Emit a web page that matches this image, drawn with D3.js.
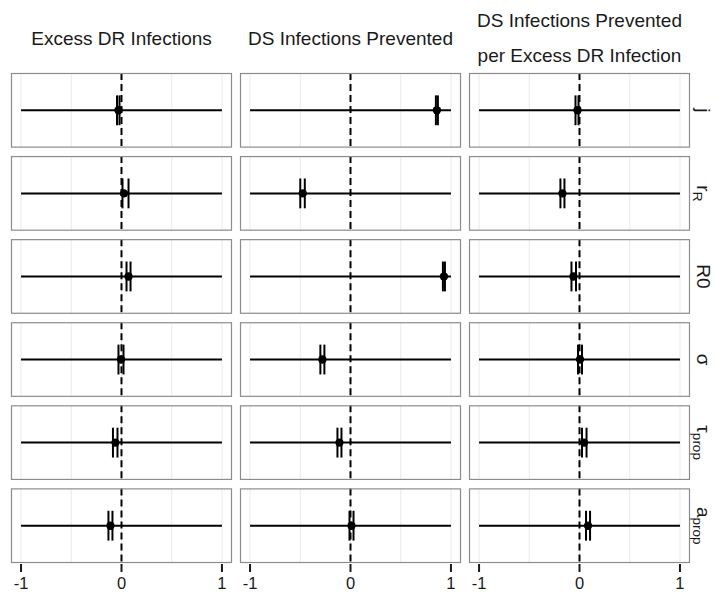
<!DOCTYPE html>
<html>
<head>
<meta charset="utf-8">
<script src="https://cdn.jsdelivr.net/npm/d3@7"></script>
<style>
  body { margin: 0; background: #fff; }
  svg { display: block; font-family: "Liberation Sans", Arial, Helvetica, sans-serif; }
</style>
</head>
<body>
<svg id="chart" width="715" height="593"></svg>
<script>
// Outcome columns (facet titles, one entry per line)
const outcomeTitles = [
  ["Excess DR Infections"],
  ["DS Infections Prevented"],
  ["DS Infections Prevented", "per Excess DR Infection"]
];

// Parameter rows: [main text, subscript]
const parameterLabels = [["j", ""], ["r", "R"], ["R0", ""], ["σ", ""], ["τ", "prop"], ["a", "prop"]];

// Sensitivity sweep of each parameter (horizontal span)
const sweepMin = [-1, -1, -1, -1, -1, -1];
const sweepMax = [1, 1, 1, 1, 1, 1];

// Excess DR infections: estimate and interval per parameter
const excessEst = [-0.03, 0.025, 0.07, -0.005, -0.06, -0.11];
const excessLo  = [-0.045, 0.01, 0.05, -0.03, -0.085, -0.13];
const excessHi  = [-0.02, 0.07, 0.09, 0.02, -0.04, -0.09];

// DS infections prevented
const preventedEst = [0.86, -0.475, 0.93, -0.28, -0.11, 0.01];
const preventedLo  = [0.85, -0.50, 0.92, -0.30, -0.13, -0.01];
const preventedHi  = [0.87, -0.455, 0.94, -0.26, -0.09, 0.03];

// DS infections prevented per excess DR infection
const ratioEst = [-0.02, -0.17, -0.06, 0.005, 0.045, 0.085];
const ratioLo  = [-0.04, -0.19, -0.08, -0.015, 0.025, 0.065];
const ratioHi  = [-0.01, -0.15, -0.035, 0.025, 0.07, 0.105];

const xTicks = [-1, 0, 1];
const gridTicks = [-1, -0.5, 0, 0.5, 1];

const columns = [
  { est: excessEst, lo: excessLo, hi: excessHi },
  { est: preventedEst, lo: preventedLo, hi: preventedHi },
  { est: ratioEst, lo: ratioLo, hi: ratioHi }
];

const svg = d3.select("#chart");

const colBand = d3.scaleBand().domain(d3.range(3)).range([11, 690]).paddingInner(0.035).paddingOuter(0);
const rowBand = d3.scaleBand().domain(d3.range(6)).range([73, 563]).paddingInner(0.102).paddingOuter(0);
const x = d3.scaleLinear().domain([-1.1, 1.1]).range([0, colBand.bandwidth()]);
const y = d3.scaleLinear().domain([0.4, 1.6]).range([rowBand.bandwidth(), 0]);

const ink = "#000";
const segHalf = 0.24;

columns.forEach((col, ci) => {
  const cg = svg.append("g").attr("transform", `translate(${colBand(ci)},0)`);

  // facet title
  const lines = outcomeTitles[ci];
  const cx = x(0);
  const baseY = lines.length === 1 ? [45] : [27, 62];
  lines.forEach((t, li) => {
    cg.append("text").attr("x", cx).attr("y", baseY[li])
      .attr("text-anchor", "middle").attr("font-size", 19).attr("fill", "#1a1a1a").text(t);
  });

  parameterLabels.forEach((lab, ri) => {
    const pg = cg.append("g").attr("transform", `translate(0,${rowBand(ri)})`);
    const h = rowBand.bandwidth();
    pg.append("rect").attr("width", colBand.bandwidth()).attr("height", h).attr("fill", "#fff");

    pg.selectAll("line.grid").data(gridTicks).join("line").attr("class", "grid")
      .attr("x1", d => x(d)).attr("x2", d => x(d)).attr("y1", 0).attr("y2", h)
      .attr("stroke", "#ececec").attr("stroke-width", 1.1);

    // parameter sweep
    pg.append("line").attr("x1", x(sweepMin[ri])).attr("x2", x(sweepMax[ri]))
      .attr("y1", y(1)).attr("y2", y(1)).attr("stroke", ink).attr("stroke-width", 2);

    // zero reference
    pg.append("line").attr("x1", x(0)).attr("x2", x(0)).attr("y1", 0).attr("y2", h)
      .attr("stroke", ink).attr("stroke-width", 2).attr("stroke-dasharray", "7,4");

    // interval bounds
    [col.lo[ri], col.hi[ri]].forEach(v => {
      pg.append("line").attr("x1", x(v)).attr("x2", x(v))
        .attr("y1", y(1 + segHalf)).attr("y2", y(1 - segHalf))
        .attr("stroke", ink).attr("stroke-width", 2);
    });

    pg.append("circle").attr("cx", x(col.est[ri])).attr("cy", y(1)).attr("r", 4.2).attr("fill", ink);

    pg.append("rect").attr("x", 0.5).attr("y", 0.5)
      .attr("width", colBand.bandwidth() - 1).attr("height", h - 1)
      .attr("fill", "none").attr("stroke", "#8c8c8c").attr("stroke-width", 1.2);
  });

  // bottom axis
  const axisG = cg.append("g").attr("transform", `translate(0,563)`);
  axisG.selectAll("line").data(xTicks).join("line")
    .attr("x1", d => x(d)).attr("x2", d => x(d)).attr("y1", 1).attr("y2", 9)
    .attr("stroke", "#1a1a1a").attr("stroke-width", 2);
  axisG.selectAll("text").data(xTicks).join("text")
    .attr("x", d => x(d)).attr("y", 26).attr("text-anchor", "middle")
    .attr("font-size", 16.5).attr("fill", "#1a1a1a").text(d => d3.format("d")(d).replace("−", "-"));
});

// row strip labels, rotated on the right
parameterLabels.forEach((lab, ri) => {
  const cy = rowBand(ri) + rowBand.bandwidth() / 2;
  const t = svg.append("text")
    .attr("transform", `translate(697,${cy}) rotate(90)`)
    .attr("text-anchor", "middle").attr("font-size", 19).attr("fill", "#1a1a1a");
  t.append("tspan").text(lab[0]);
  if (lab[1]) {
    t.append("tspan").attr("font-size", 13.5).attr("dy", 4).text(lab[1]);
  }
});
</script>
</body>
</html>
